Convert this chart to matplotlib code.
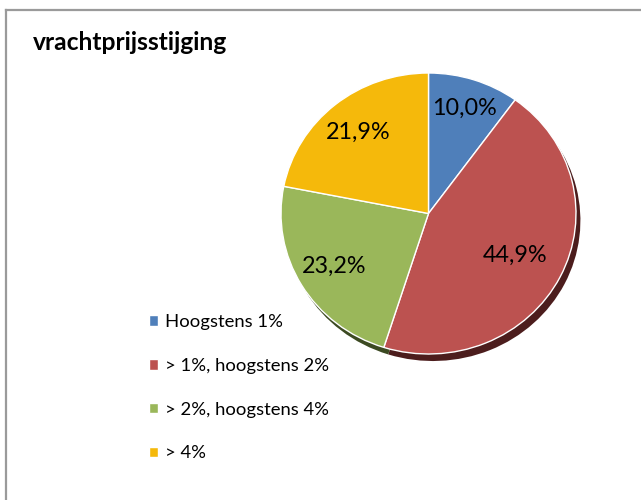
import matplotlib
matplotlib.use('Agg')
import matplotlib.pyplot as plt
from matplotlib.lines import Line2D
import numpy as np

plt.rcParams['font.family'] = ['Lato', 'DejaVu Sans']

# Aandeel per categorie prijsstijging
categories = ['Hoogstens 1%', '> 1%, hoogstens 2%', '> 2%, hoogstens 4%', '> 4%']
shares = [10.0, 44.9, 23.2, 21.9]
colors = ['#4F7FBA', '#BC5250', '#9AB75A', '#F5B90B']
shadow_colors = ['#2c4668', '#4c1d1d', '#3c4a22', '#6a5005']
label_radius = [0.79, 0.66, 0.74, 0.75]

fig = plt.figure(figsize=(6.41, 5.0), dpi=100)

# rand links en boven
fig.add_artist(Line2D([5.5 / 641, 5.5 / 641], [0, 1 - 9.5 / 500], color='#9a9a9a', lw=1.6))
fig.add_artist(Line2D([5.5 / 641, 1], [1 - 9.5 / 500, 1 - 9.5 / 500], color='#9a9a9a', lw=1.6))

fig.text(33 / 641, 1 - 50 / 500, 'vrachtprijsstijging', fontsize=17.7, fontweight='bold',
         va='baseline', ha='left')

ax = fig.add_axes([281 / 641, 146 / 500, 295 / 641, 281 / 500])

# schaduw onder de taart
ax.pie(shares, colors=shadow_colors, startangle=90, counterclock=False,
       center=(0.03, -0.05), radius=1.0, wedgeprops=dict(linewidth=0))
wedges, _ = ax.pie(shares, colors=colors, startangle=90, counterclock=False,
                   radius=1.0, wedgeprops=dict(edgecolor='white', linewidth=1.0))
ax.set_aspect('auto')
ax.set_xlim(-1, 1)
ax.set_ylim(-1, 1)
ax.axis('off')

for w, val, r in zip(wedges, shares, label_radius):
    theta = np.deg2rad((w.theta1 + w.theta2) / 2)
    ax.text(r * np.cos(theta), r * np.sin(theta), f'{val:.1f}%'.replace('.', ','),
            ha='center', va='center', fontsize=16.8)

fig.legend(wedges, categories, loc='upper left', bbox_to_anchor=(140 / 641, 1 - 305 / 500),
           frameon=False, fontsize=13.3, handlelength=0.5, handleheight=0.5,
           handletextpad=0.35, labelspacing=1.5, borderpad=0)

fig.savefig('out.png', dpi=100, facecolor='white')
